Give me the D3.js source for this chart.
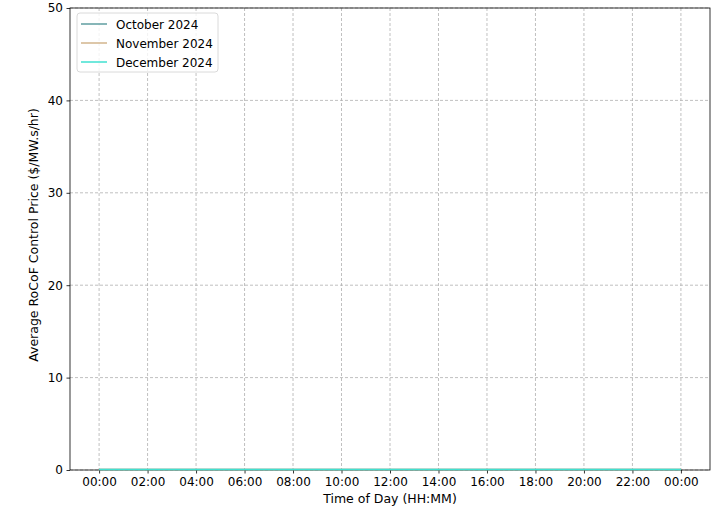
<!DOCTYPE html>
<html><head><meta charset="utf-8">
<script src="https://cdn.jsdelivr.net/npm/d3@7"></script>
<style>body{margin:0;background:#fff;} text{font-family:"DejaVu Sans",sans-serif;}</style>
</head><body><svg id="c" width="718" height="512"></svg>
<script>
const hours = [0,0.5,1,1.5,2,2.5,3,3.5,4,4.5,5,5.5,6,6.5,7,7.5,8,8.5,9,9.5,10,10.5,11,11.5,12,12.5,13,13.5,14,14.5,15,15.5,16,16.5,17,17.5,18,18.5,19,19.5,20,20.5,21,21.5,22,22.5,23,23.5,24];
const octValues = [0,0,0,0,0,0,0,0,0,0,0,0,0,0,0,0,0,0,0,0,0,0,0,0,0,0,0,0,0,0,0,0,0,0,0,0,0,0,0,0,0,0,0,0,0,0,0,0,0];
const novValues = [0,0,0,0,0,0,0,0,0,0,0,0,0,0,0,0,0,0,0,0,0,0,0,0,0,0,0,0,0,0,0,0,0,0,0,0,0,0,0,0,0,0,0,0,0,0,0,0,0];
const decValues = [0,0,0,0,0,0,0,0,0,0,0,0,0,0,0,0,0,0,0,0,0,0,0,0,0,0,0,0,0,0,0,0,0,0,0,0,0,0,0,0,0,0,0,0,0,0,0,0,0];
const seriesNames = ["October 2024","November 2024","December 2024"];
const seriesColors = ["#5f9ea0","#d2b48c","#40e0d0"];
const xTickHours = [0,2,4,6,8,10,12,14,16,18,20,22,24];
const xTickLabels = ["00:00","02:00","04:00","06:00","08:00","10:00","12:00","14:00","16:00","18:00","20:00","22:00","00:00"];
const yTicks = [0,10,20,30,40,50];

const svg = d3.select("#c");
const L=70, R=710, T=8, B=470;
const x = d3.scaleLinear().domain([-1.2,25.2]).range([L,R]);
const y = d3.scaleLinear().domain([0,50]).range([B,T]);

// grid
const g = svg.append("g");
g.selectAll(".vg").data(xTickHours).enter().append("line")
  .attr("x1",d=>x(d)).attr("x2",d=>x(d)).attr("y1",T).attr("y2",B)
  .attr("stroke","#b0b0b0").attr("stroke-width",0.8).attr("stroke-dasharray","3,2");
g.selectAll(".hg").data(yTicks).enter().append("line")
  .attr("x1",L).attr("x2",R).attr("y1",d=>y(d)).attr("y2",d=>y(d))
  .attr("stroke","#b0b0b0").attr("stroke-width",0.8).attr("stroke-dasharray","3,2");

// axes
const xAxis = d3.axisBottom(x).tickValues(xTickHours).tickFormat((d,i)=>xTickLabels[i]).tickSize(3.5).tickPadding(3.5);
const yAxis = d3.axisLeft(y).tickValues(yTicks).tickSize(3.5).tickPadding(3.5);
const xa = svg.append("g").attr("transform",`translate(0,${B})`).call(xAxis);
const ya = svg.append("g").attr("transform",`translate(${L},0)`).call(yAxis);
[xa,ya].forEach(a=>{
  a.select(".domain").remove();
  a.selectAll("text").attr("font-size",12).attr("fill","#000").style("font-family","DejaVu Sans");
  a.selectAll("line").attr("stroke","#000").attr("stroke-width",0.8);
});
svg.append("rect").attr("x",L).attr("y",T).attr("width",R-L).attr("height",B-T)
  .attr("fill","none").attr("stroke","#000").attr("stroke-width",0.8);

// lines
const all = [octValues,novValues,decValues];
const line = d3.line().x((d,i)=>x(hours[i])).y(d=>y(d)-0.5);
all.forEach((vals,k)=>{
  svg.append("path").datum(vals).attr("d",line).attr("fill","none")
    .attr("stroke",seriesColors[k]).attr("stroke-width",1.5);
});

// labels
svg.append("text").attr("x",(L+R)/2).attr("y",503).attr("text-anchor","middle")
  .attr("font-size",12.5).text("Time of Day (HH:MM)");
svg.append("text").attr("transform",`translate(38,${(T+B)/2 - 4}) rotate(-90)`).attr("text-anchor","middle")
  .attr("font-size",12.5).text("Average RoCoF Control Price ($/MW.s/hr)");

// legend
const lg = svg.append("g");
lg.append("rect").attr("x",77).attr("y",13).attr("width",141).attr("height",59).attr("rx",3)
  .attr("fill","#fff").attr("fill-opacity",0.8).attr("stroke","#d0d0d0").attr("stroke-width",0.8);
seriesNames.forEach((n,k)=>{
  const yy = 24 + k*19;
  lg.append("line").attr("x1",81).attr("x2",107).attr("y1",yy).attr("y2",yy)
    .attr("stroke",seriesColors[k]).attr("stroke-width",1.5);
  lg.append("text").attr("x",116).attr("y",yy+4.5).attr("font-size",12).text(n);
});
</script></body></html>
